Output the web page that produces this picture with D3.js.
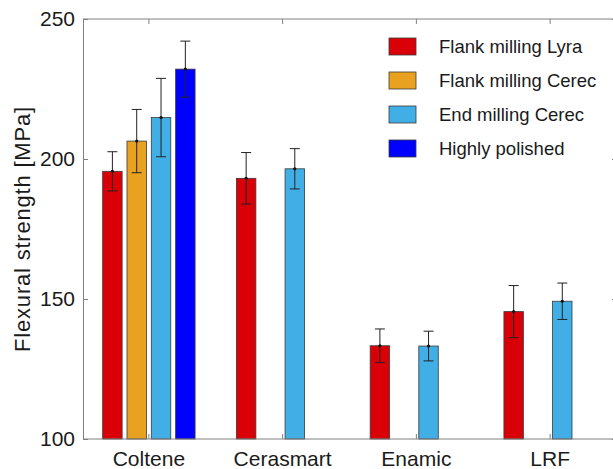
<!DOCTYPE html>
<html>
<head>
<meta charset="utf-8">
<script src="https://cdn.jsdelivr.net/npm/d3@7"></script>
<style>
  body { margin: 0; background: #fff; }
  text { font-family: "Liberation Sans", Arial, Helvetica, sans-serif; fill: #1a1a1a; }
</style>
</head>
<body>
<svg id="chart" width="613" height="469"></svg>
<script>
// data (NaN = no bar)
var categories = ["Coltene", "Cerasmart", "Enamic", "LRF"]
var series = ["Flank milling Lyra", "Flank milling Cerec", "End milling Cerec", "Highly polished"]
var colors = ["#d90008", "#e8a21f", "#42aee6", "#0000ff"]
var meanLyra = [195.6, 193.1, 133.3, 145.5]
var meanFlankCerec = [206.4, NaN, NaN, NaN]
var meanEndCerec = [214.8, 196.5, 133.2, 149.2]
var meanPolished = [232.1, NaN, NaN, NaN]
var sdLyra = [7.0, 9.2, 6.0, 9.3]
var sdFlankCerec = [11.3, NaN, NaN, NaN]
var sdEndCerec = [14.0, 7.2, 5.3, 6.5]
var sdPolished = [10.0, NaN, NaN, NaN]
var yTicks = [100, 150, 200, 250]

var means = [meanLyra, meanFlankCerec, meanEndCerec, meanPolished]
var sds = [sdLyra, sdFlankCerec, sdEndCerec, sdPolished]

var svg = d3.select("#chart")
// plot box (window.top is reserved, so use other names)
var pLeft = 83, pRight = 617, pTop = 19, pBottom = 439

var x = d3.scaleBand().domain(categories).range([pLeft - 1, pRight]).padding(0)
var groupW = x.bandwidth() * Math.min(0.8, 4 / 5.5)
var xs = d3.scaleBand().domain(series)
   .range([-groupW / 2, groupW / 2]).paddingInner(0.2).paddingOuter(0.1)
var y = d3.scaleLinear().domain([100, 250]).range([pBottom, pTop])

var rows = []
series.forEach(function(s, i) {
   categories.forEach(function(c, j) {
      if (!isNaN(means[i][j])) rows.push({ s: s, c: c, v: means[i][j], sd: sds[i][j], col: colors[i] })
   })
})

// bars
svg.selectAll("rect.bar")
   .data(rows)
   .enter()
   .append("rect")
   .attr("class", "bar")
   .attr("x", function(d) { return x(d.c) + x.bandwidth() / 2 + xs(d.s) })
   .attr("y", function(d) { return y(d.v) })
   .attr("width", xs.bandwidth())
   .attr("height", function(d) { return pBottom - y(d.v) })
   .attr("fill", function(d) { return d.col })
   .attr("stroke", "#3a3a3a")
   .attr("stroke-width", 0.8)

// error bars
var eb = svg.selectAll("g.err").data(rows).enter().append("g")
   .attr("transform", function(d) {
      return "translate(" + (x(d.c) + x.bandwidth() / 2 + xs(d.s) + xs.bandwidth() / 2) + ",0)"
   })
eb.append("line")
   .attr("y1", function(d) { return y(d.v + d.sd) })
   .attr("y2", function(d) { return y(d.v - d.sd) })
   .attr("stroke", "#222").attr("stroke-width", 1)
eb.append("line").attr("x1", -5).attr("x2", 5)
   .attr("y1", function(d) { return y(d.v + d.sd) })
   .attr("y2", function(d) { return y(d.v + d.sd) })
   .attr("stroke", "#222").attr("stroke-width", 1)
eb.append("line").attr("x1", -5).attr("x2", 5)
   .attr("y1", function(d) { return y(d.v - d.sd) })
   .attr("y2", function(d) { return y(d.v - d.sd) })
   .attr("stroke", "#222").attr("stroke-width", 1)
eb.append("circle").attr("r", 1.6)
   .attr("cy", function(d) { return y(d.v) })
   .attr("fill", "#111")

// axes box (matlab style, ticks pointing in)
function styleAxis(g) {
   g.select(".domain").attr("stroke", "#808080").attr("stroke-width", 1)
   g.selectAll(".tick line").attr("stroke", "#808080")
}
svg.append("g")
   .attr("transform", "translate(" + pLeft + ",0)")
   .call(d3.axisLeft(y).tickValues(yTicks).tickSizeInner(-5).tickSizeOuter(0).tickPadding(8))
   .call(styleAxis)
   .selectAll("text").style("font-size", "21px").attr("fill", "#1a1a1a")

svg.append("g")
   .attr("transform", "translate(" + pRight + ",0)")
   .call(d3.axisRight(y).tickValues(yTicks).tickSizeInner(-5).tickSizeOuter(0).tickFormat(""))
   .call(styleAxis)

var xb = svg.append("g")
   .attr("transform", "translate(0," + pBottom + ")")
   .call(d3.axisBottom(x).tickSizeInner(-5).tickSizeOuter(0).tickPadding(12))
   .call(styleAxis)
xb.select(".domain").attr("d", "M" + pLeft + ",0H" + pRight)
xb.selectAll("text").style("font-size", "21px").attr("fill", "#1a1a1a")

var xt = svg.append("g")
   .attr("transform", "translate(0," + pTop + ")")
   .call(d3.axisTop(x).tickSizeInner(-5).tickSizeOuter(0).tickFormat(""))
   .call(styleAxis)
xt.select(".domain").attr("d", "M" + pLeft + ",0H" + pRight)

// y label
svg.append("text")
   .attr("transform", "translate(30," + ((pTop + pBottom) / 2) + ") rotate(-90)")
   .attr("text-anchor", "middle")
   .style("font-size", "22px")
   .style("letter-spacing", "0.8px")
   .text("Flexural strength [MPa]")

// legend
var lg = svg.selectAll("g.leg").data(series).enter().append("g")
   .attr("transform", function(d, i) { return "translate(389," + (38 + i * 34) + ")" })
lg.append("rect").attr("width", 27).attr("height", 17)
   .attr("fill", function(d, i) { return colors[i] })
   .attr("stroke", "#3a3a3a").attr("stroke-width", 0.8)
lg.append("text").attr("x", 50).attr("y", 14.5)
   .style("font-size", "18.5px")
   .text(function(d) { return d })
</script>
</body>
</html>
